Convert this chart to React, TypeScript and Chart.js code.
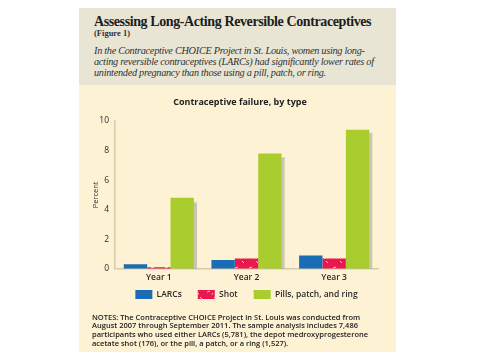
import React, { useEffect, useRef } from "react";
import { Chart, registerables } from "chart.js";

Chart.register(...registerables);

const categories = ["Year 1", "Year 2", "Year 3"];
const larcs = [0.3, 0.6, 0.9];
const shot = [0.1, 0.7, 0.7];
const pills = [4.8, 7.8, 9.4];
const seriesNames = ["LARCs", "Shot", "Pills, patch, and ring"];
const yTicks = [0, 2, 4, 6, 8, 10];

const BLUE = "#1a6db5";
const RED = "#e8194f";
const GREEN = "#a9cd2f";
const CREAM = "#fdf2d4";
const HEADER = "#e8e5d4";
const AXIS = "#d6cca8";
const TXT = "#2b2b2b";
const SANS = "'Open Sans', 'DejaVu Sans', sans-serif";
const SERIF = "'Liberation Serif', 'DejaVu Serif', serif";
const LEGEND_SHIFT = 13;

function makeShotPattern(): CanvasPattern | string {
  const c = document.createElement("canvas");
  c.width = 14;
  c.height = 12;
  const g = c.getContext("2d");
  if (!g) return RED;
  g.fillStyle = RED;
  g.fillRect(0, 0, 14, 12);
  g.strokeStyle = "rgba(255,255,255,0.75)";
  g.lineWidth = 1;
  g.beginPath();
  g.moveTo(2, 3); g.lineTo(5, 2);
  g.moveTo(9, 8); g.lineTo(11, 10);
  g.moveTo(7, 4); g.lineTo(7.5, 5.5);
  g.stroke();
  const p = g.createPattern(c, "repeat");
  return p || RED;
}

const shadowPlugin = {
  id: "barShadow",
  afterLayout(chart: any) {
    const l = chart.legend;
    if (l) {
      l.top -= LEGEND_SHIFT;
      l.bottom -= LEGEND_SHIFT;
    }
  },
  beforeDatasetDraw(chart: any, args: any) {
    if (args.index !== 2) return;
    const ctx = chart.ctx;
    ctx.save();
    ctx.shadowColor = "rgba(160,160,150,0.55)";
    ctx.shadowOffsetX = 3;
    ctx.shadowOffsetY = 3;
    ctx.shadowBlur = 1;
  },
  afterDatasetDraw(chart: any, args: any) {
    if (args.index !== 2) return;
    chart.ctx.restore();
  },
};

function BarChart() {
  const ref = useRef<HTMLCanvasElement | null>(null);
  useEffect(() => {
    if (!ref.current) return;
    const pattern = makeShotPattern();
    const chart = new Chart(ref.current, {
      type: "bar",
      data: {
        labels: categories,
        datasets: [
          { label: seriesNames[0], data: larcs, backgroundColor: BLUE, borderWidth: 0 },
          { label: seriesNames[1], data: shot, backgroundColor: pattern as any, borderWidth: 0 },
          { label: seriesNames[2], data: pills, backgroundColor: GREEN, borderWidth: 0 },
        ],
      },
      options: {
        animation: false,
        responsive: false,
        maintainAspectRatio: false,
        layout: { padding: { left: 8, right: 18, top: 36, bottom: 0 } },
        datasets: { bar: { categoryPercentage: 0.8, barPercentage: 1.0 } },
        plugins: {
          title: { display: false },
          legend: {
            position: "bottom",
            fullSize: false,
            labels: {
              color: TXT,
              font: { family: SANS, size: 8.5, weight: "600" },
              boxWidth: 17,
              boxHeight: 9,
              padding: 16,
            },
          },
          tooltip: { enabled: false },
        },
        scales: {
          x: {
            grid: { display: false, drawTicks: false },
            border: { color: AXIS, width: 1.5 },
            ticks: { color: TXT, font: { family: SANS, size: 8.5, weight: "600" }, padding: 4 },
          },
          y: {
            min: 0,
            max: 10,
            afterFit: (s: any) => { s.width = 28; },
            afterBuildTicks: (s: any) => { s.ticks = yTicks.map((v) => ({ value: v })); },
            grid: { display: false, drawTicks: false },
            border: { color: AXIS, width: 1.5 },
            ticks: { color: TXT, font: { family: SANS, size: 8.5 }, padding: 6 },
            title: {
              display: true,
              text: "Percent",
              color: TXT,
              font: { family: SANS, size: 7.5 },
              padding: { top: 4, bottom: 0 },
            },
          },
        },
      },
      plugins: [shadowPlugin],
    });
    return () => chart.destroy();
  }, []);
  return (
    <canvas
      ref={ref}
      width={317}
      height={237}
      style={{ position: "absolute", left: 79, top: 85, width: 317, height: 237 }}
    />
  );
}

export default function App() {
  const abs = (o: React.CSSProperties): React.CSSProperties => ({ position: "absolute", whiteSpace: "nowrap", ...o });
  return (
    <div style={{ position: "relative", width: 485, height: 360, margin: -8, overflow: "hidden", background: "#fff" }}>
      <div style={abs({ left: 79, top: 7, width: 317, height: 78, background: HEADER })} />
      <div style={abs({ left: 79, top: 85, width: 317, height: 275, background: CREAM })} />
      <div style={abs({ left: 94, top: 14, fontFamily: SERIF, fontWeight: "bold", fontSize: 14, lineHeight: "16px", color: "#1c1c1c", letterSpacing: -0.4 })}>
        Assessing Long-Acting Reversible Contraceptives
      </div>
      <div style={abs({ left: 94, top: 28, fontFamily: SERIF, fontWeight: "bold", fontSize: 8.5, lineHeight: "10px", color: "#333" })}>
        (Figure 1)
      </div>
      <div style={abs({ left: 94, top: 44.5, fontFamily: SERIF, fontStyle: "italic", fontSize: 10.3, lineHeight: "11px", color: "#333", letterSpacing: -0.3 })}>
        In the Contraceptive CHOICE Project in St. Louis, women using long-<br />
        acting reversible contraceptives (LARCs) had significantly lower rates of<br />
        unintended pregnancy than those using a pill, patch, or ring.
      </div>
      <BarChart />
      <div style={abs({ left: 79, width: 322, top: 96, textAlign: "center", fontFamily: SANS, fontWeight: "bold", fontSize: 9, lineHeight: "12px", color: "#222" })}>
        Contraceptive failure, by type
      </div>
      <div style={abs({ left: 92, top: 312.6, fontFamily: SANS, fontWeight: 600, fontSize: 7.5, lineHeight: "8.8px", color: "#222" })}>
        NOTES: The Contraceptive CHOICE Project in St. Louis was conducted from<br />
        August 2007 through September 2011. The sample analysis includes 7,486<br />
        participants who used either LARCs (5,781), the depot medroxyprogesterone<br />
        acetate shot (176), or the pill, a patch, or a ring (1,527).
      </div>
      <div style={abs({ left: 92, top: 355, fontFamily: SANS, fontSize: 7.5, lineHeight: "8.8px", color: "#444" })}>
        <b>SOURCE:</b> Brooke Winner et al., "Effectiveness of Long-Acting Reversible Contraception," New England Journal
      </div>
    </div>
  );
}
